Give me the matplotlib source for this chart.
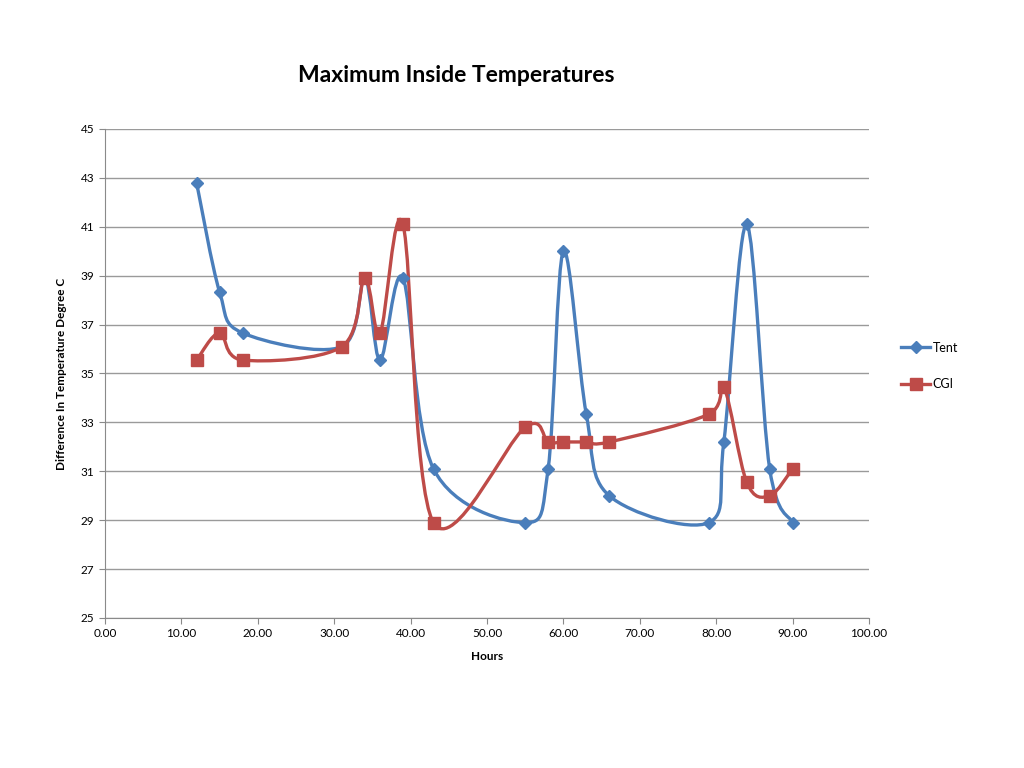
import matplotlib.pyplot as plt
import numpy as np
from matplotlib.path import Path
from matplotlib.patches import PathPatch
from matplotlib.lines import Line2D
from matplotlib.ticker import FormatStrFormatter, MultipleLocator

plt.rcParams['font.family'] = ['Lato', 'DejaVu Sans']

hours = [12, 15, 18, 31, 34, 36, 39, 43, 55, 58, 60, 63, 66, 79, 81, 84, 87, 90]
tent = [42.78, 38.33, 36.66, 36.1, 38.9, 35.55, 38.9, 31.1, 28.9, 31.1,
        40.0, 33.33, 30.0, 28.9, 32.2, 41.1, 31.1, 28.9]
cgi = [35.55, 36.66, 35.55, 36.1, 38.9, 36.66, 41.1, 28.9, 32.8, 32.2,
       32.2, 32.2, 32.2, 33.33, 34.45, 30.55, 30.0, 31.1]
y_ticks = [25, 27, 29, 31, 33, 35, 37, 39, 41, 43, 45]

blue = '#4A7EBB'
red = '#BE4B48'


def smooth_path(x, y):
    # excel-like smoothed line: cubic bezier, control points from neighbours
    p = np.column_stack([x, y]).astype(float)
    n = len(p)
    verts = [p[0]]
    codes = [Path.MOVETO]
    for i in range(n - 1):
        p0 = p[i - 1] if i > 0 else p[i]
        p1 = p[i]
        p2 = p[i + 1]
        p3 = p[i + 2] if i + 2 < n else p[i + 1]
        c1 = p1 + (p2 - p0) / 6
        c2 = p2 - (p3 - p1) / 6
        verts += [c1, c2, p2]
        codes += [Path.CURVE4] * 3
    return Path(verts, codes)


fig = plt.figure(figsize=(10.24, 7.68), dpi=100)
ax = fig.add_axes([105 / 1024, 1 - 618 / 768, 764 / 1024, 489 / 768])

for ys, c, m, ms in [(tent, blue, 'D', 6), (cgi, red, 's', 8)]:
    ax.add_patch(PathPatch(smooth_path(hours, ys), fill=False, edgecolor=c,
                           linewidth=2.4, zorder=3))
    ax.plot(hours, ys, linestyle='none', marker=m, markersize=ms, color=c, zorder=4)

ax.set_xlim(0, 100)
ax.set_ylim(25, 45)
ax.xaxis.set_major_locator(MultipleLocator(10))
ax.set_yticks(y_ticks)
ax.xaxis.set_major_formatter(FormatStrFormatter('%.2f'))
ax.yaxis.grid(True, color='#9a9a9a', linewidth=1)
ax.set_axisbelow(True)
for s in ['top', 'right']:
    ax.spines[s].set_visible(False)
for s in ['left', 'bottom']:
    ax.spines[s].set_color('#8a8a8a')
ax.tick_params(axis='both', labelsize=8.5, color='#8a8a8a', length=4, direction='out')

ax.set_xlabel('Hours', fontsize=8.5, fontweight='bold', labelpad=8)
ax.set_ylabel('Difference In Temperature Degree C', fontsize=8.5, fontweight='bold', labelpad=10)
fig.text(456 / 1024, 1 - 76 / 768, 'Maximum Inside Temperatures', fontsize=16.5,
         fontweight='bold', ha='center', va='center')

handles = [Line2D([], [], color=blue, marker='D', markersize=6, linewidth=2.4),
           Line2D([], [], color=red, marker='s', markersize=8, linewidth=2.4)]
fig.legend(handles, ['Tent', 'CGI'], loc='center left',
           bbox_to_anchor=(890 / 1024, 1 - 366 / 768), frameon=False,
           fontsize=9, handlelength=2.3, handletextpad=0.2, labelspacing=2.0)

plt.savefig('out.png', dpi=100)
